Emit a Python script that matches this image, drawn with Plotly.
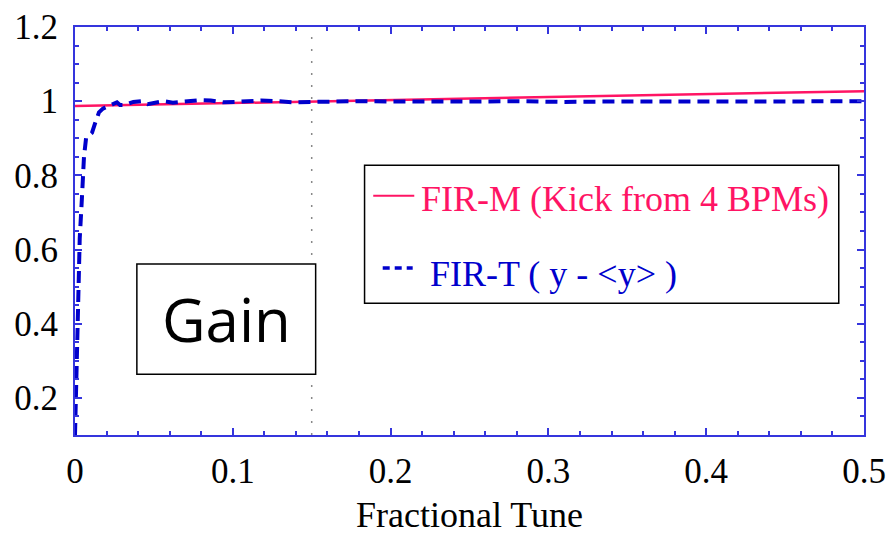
import plotly.graph_objects as go

# FIR-M: gain computed from the kick of 4 BPMs
tune_m = [0.0, 0.1, 0.2, 0.3, 0.4, 0.5]
gain_m = [0.987, 0.995, 1.004, 1.011, 1.019, 1.027]

# FIR-T: gain from y - <y>
tune_t = [0.0, 0.0005, 0.0015, 0.0025, 0.003, 0.0044, 0.0051, 0.0057, 0.007, 0.0082,
          0.0108, 0.0127, 0.0152, 0.0177, 0.0234, 0.0266, 0.0285, 0.032, 0.037, 0.042,
          0.046, 0.051, 0.056, 0.062, 0.068, 0.074, 0.080, 0.086, 0.094, 0.102,
          0.110, 0.118, 0.128, 0.138, 0.150, 0.165, 0.180, 0.20, 0.22, 0.25,
          0.28, 0.31, 0.34, 0.37, 0.40, 0.43, 0.46, 0.50]
gain_t = [0.10, 0.20, 0.40, 0.52, 0.63, 0.74, 0.81, 0.85, 0.90, 0.905,
          0.915, 0.94, 0.97, 0.98, 0.99, 0.997, 0.99, 0.99, 0.998, 1.0,
          0.992, 0.996, 1.0, 0.996, 0.999, 1.002, 1.003, 1.002, 0.997, 0.998,
          1.001, 1.002, 1.0, 0.997, 0.998, 1.0, 1.0, 0.999, 1.0, 0.999,
          1.0, 0.998, 0.999, 1.0, 0.999, 0.999, 1.0, 1.0]

x_ticks = [0, 0.1, 0.2, 0.3, 0.4, 0.5]
y_ticks = [0.2, 0.4, 0.6, 0.8, 1.0, 1.2]
x_label = "Fractional Tune"
name_m = "FIR-M (Kick from 4 BPMs)"
name_t = "FIR-T ( y - <y> )"
panel_label = "Gain"
marker_tune = 0.15

RED = "#FF1464"
BLUE = "#0000CC"
AXIS = "#3535DD"
SERIF = "Liberation Serif, Times New Roman, serif"

fig = go.Figure()
fig.add_trace(go.Scatter(x=tune_m, y=gain_m, mode="lines",
                         line=dict(color=RED, width=2.5), name=name_m))
fig.add_trace(go.Scatter(x=tune_t, y=gain_t, mode="lines",
                         line=dict(color=BLUE, width=4, dash="12px,7px"), name=name_t))

# vertical dotted marker
fig.add_shape(type="line", xref="x", yref="paper", x0=marker_tune, x1=marker_tune,
              y0=0, y1=1, line=dict(color="#888888", width=1.5, dash="2px,10px"),
              layer="below")

# "Gain" boxed label
fig.add_shape(type="rect", xref="x", yref="y", x0=0.0392, x1=0.1525, y0=0.264, y1=0.561,
              line=dict(color="black", width=1.5), fillcolor="white")
fig.add_annotation(x=(0.0392 + 0.1525) / 2, y=(0.264 + 0.561) / 2, xref="x", yref="y",
                   text=panel_label, showarrow=False,
                   font=dict(family="Open Sans, sans-serif", size=60, color="black"))

# legend box
fig.add_shape(type="rect", xref="x", yref="y", x0=0.1835, x1=0.484, y0=0.4555, y1=0.8275,
              line=dict(color="black", width=1.5), fillcolor="white")
fig.add_shape(type="line", xref="x", yref="y", x0=0.189, x1=0.215, y0=0.745, y1=0.745,
              line=dict(color=RED, width=2))
fig.add_annotation(x=0.218, y=0.735, xref="x", yref="y", text=name_m, showarrow=False,
                   xanchor="left", font=dict(family=SERIF, size=36, color=RED))
fig.add_shape(type="line", xref="x", yref="y", x0=0.195, x1=0.214, y0=0.55, y1=0.55,
              line=dict(color=BLUE, width=3.5, dash="7px,5px"))
fig.add_annotation(x=0.224, y=0.535, xref="x", yref="y", text=name_t, showarrow=False,
                   xanchor="left", font=dict(family=SERIF, size=36, color=BLUE))

axis_common = dict(showline=True, linecolor=AXIS, linewidth=2, mirror="ticks",
                   ticks="inside", tickcolor=AXIS, tickwidth=1.5, ticklen=7,
                   showgrid=False, zeroline=False, automargin=False,
                   tickfont=dict(family=SERIF, size=35, color="black"))

fig.update_xaxes(range=[0, 0.5], tickvals=x_ticks, ticktext=[f"{v:g}" for v in x_ticks],
                 minor=dict(dtick=0.02, ticks="inside", ticklen=4, tickcolor=AXIS),
                 ticklabelstandoff=4,
                 title=dict(text=x_label, font=dict(family=SERIF, size=36, color="black"),
                            standoff=12),
                 **axis_common)
fig.update_yaxes(range=[0.1, 1.2], tickvals=y_ticks, ticktext=[f"{v:g}" for v in y_ticks],
                 minor=dict(dtick=0.05, ticks="inside", ticklen=4, tickcolor=AXIS),
                 ticklabelstandoff=8,
                 **axis_common)

fig.update_layout(width=888, height=540, margin=dict(l=75, r=24, t=27, b=105),
                  paper_bgcolor="white", plot_bgcolor="white", showlegend=False)

fig.write_html("out.html")
